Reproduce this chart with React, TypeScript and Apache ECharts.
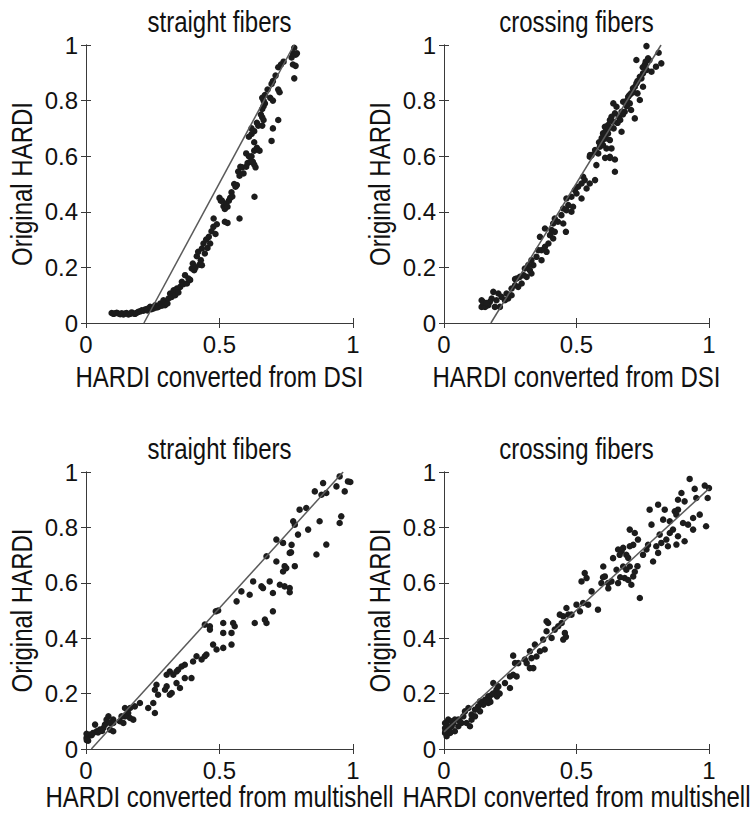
import React, { useEffect, useRef } from "react";
import * as echarts from "echarts";

const FONT = "'Liberation Sans', Arial, Helvetica, sans-serif";

const panelTitles = ["straight fibers", "crossing fibers", "straight fibers", "crossing fibers"];
const xAxisNames = [
  "HARDI converted from DSI",
  "HARDI converted from DSI",
  "HARDI converted from multishell",
  "HARDI converted from multishell",
];
const yAxisName = "Original HARDI";
const xTickStep = 0.5;
const yTickStep = 0.2;

const dsiStraight: number[][] = [
  [0.096,0.036],[0.103,0.033],[0.109,0.035],[0.115,0.037],[0.121,0.034],[0.128,0.032],[0.134,0.035],[0.14,0.031],
  [0.146,0.034],[0.152,0.036],[0.159,0.031],[0.165,0.033],[0.171,0.038],[0.178,0.034],[0.184,0.033],[0.19,0.037],
  [0.196,0.04],[0.203,0.042],[0.209,0.046],[0.215,0.044],[0.221,0.048],[0.228,0.05],[0.234,0.052],[0.23,0.045],
  [0.24,0.058],[0.245,0.05],[0.253,0.052],[0.259,0.064],[0.265,0.056],[0.271,0.058],[0.278,0.07],[0.284,0.062],
  [0.29,0.082],[0.296,0.064],[0.3,0.076],[0.305,0.07],[0.309,0.088],[0.315,0.106],[0.321,0.094],[0.328,0.118],
  [0.334,0.1],[0.34,0.124],[0.34,0.118],[0.346,0.11],[0.353,0.13],[0.359,0.148],[0.365,0.14],[0.371,0.172],
  [0.378,0.142],[0.384,0.16],[0.39,0.155],[0.396,0.196],[0.4,0.214],[0.405,0.19],[0.41,0.2],[0.415,0.24],
  [0.42,0.256],[0.425,0.21],[0.43,0.226],[0.434,0.208],[0.434,0.268],[0.44,0.286],[0.445,0.25],[0.45,0.3],
  [0.455,0.27],[0.46,0.31],[0.465,0.286],[0.47,0.33],[0.477,0.346],[0.478,0.376],[0.485,0.32],[0.49,0.355],
  [0.5,0.45],[0.505,0.44],[0.509,0.44],[0.515,0.42],[0.52,0.364],[0.52,0.41],[0.525,0.43],[0.53,0.418],
  [0.53,0.36],[0.535,0.44],[0.54,0.45],[0.545,0.47],[0.548,0.455],[0.555,0.5],[0.56,0.49],[0.565,0.496],
  [0.57,0.545],[0.575,0.53],[0.575,0.376],[0.578,0.562],[0.585,0.56],[0.59,0.538],[0.6,0.562],[0.6,0.61],
  [0.605,0.575],[0.61,0.6],[0.615,0.58],[0.62,0.68],[0.62,0.6],[0.625,0.58],[0.63,0.57],[0.63,0.62],
  [0.631,0.454],[0.635,0.56],[0.63,0.65],[0.64,0.63],[0.61,0.67],[0.62,0.7],[0.63,0.69],[0.64,0.72],
  [0.645,0.71],[0.65,0.62],[0.655,0.75],[0.66,0.74],[0.66,0.77],[0.66,0.71],[0.665,0.73],[0.665,0.78],
  [0.665,0.8],[0.67,0.79],[0.66,0.81],[0.67,0.82],[0.68,0.84],[0.69,0.81],[0.695,0.86],[0.695,0.655],
  [0.7,0.87],[0.7,0.8],[0.7,0.7],[0.71,0.89],[0.72,0.84],[0.725,0.83],[0.72,0.73],[0.72,0.92],
  [0.73,0.93],[0.74,0.94],[0.77,0.955],[0.775,0.97],[0.775,0.93],[0.78,0.99],[0.78,0.88],[0.785,0.965],
  [0.785,0.925],[0.79,0.97],
];

const dsiCrossing: number[][] = [
  [0.764,0.996],[0.726,0.946],[0.77,0.952],[0.775,0.945],[0.761,0.94],[0.81,0.972],[0.82,0.934],[0.8,0.922],
  [0.783,0.904],[0.751,0.898],[0.765,0.91],[0.739,0.886],[0.726,0.862],[0.751,0.85],[0.713,0.844],[0.706,0.826],
  [0.73,0.826],[0.739,0.802],[0.695,0.814],[0.676,0.796],[0.701,0.79],[0.69,0.78],[0.682,0.76],[0.706,0.766],
  [0.72,0.736],[0.67,0.688],[0.651,0.778],[0.645,0.754],[0.632,0.742],[0.638,0.724],[0.626,0.73],[0.619,0.712],
  [0.607,0.706],[0.6,0.682],[0.619,0.682],[0.611,0.664],[0.626,0.658],[0.594,0.646],[0.588,0.634],[0.632,0.628],
  [0.613,0.628],[0.573,0.616],[0.582,0.61],[0.626,0.598],[0.645,0.588],[0.557,0.604],[0.55,0.598],[0.575,0.568],
  [0.645,0.544],[0.525,0.526],[0.531,0.514],[0.519,0.502],[0.57,0.514],[0.55,0.502],[0.538,0.484],[0.506,0.49],
  [0.494,0.478],[0.5,0.466],[0.481,0.454],[0.519,0.448],[0.462,0.448],[0.469,0.424],[0.487,0.418],[0.45,0.412],
  [0.481,0.4],[0.462,0.406],[0.443,0.388],[0.418,0.376],[0.43,0.364],[0.45,0.358],[0.46,0.328],[0.412,0.358],
  [0.406,0.334],[0.418,0.328],[0.381,0.34],[0.4,0.316],[0.412,0.304],[0.362,0.31],[0.394,0.286],[0.381,0.274],
  [0.368,0.262],[0.387,0.256],[0.356,0.262],[0.349,0.238],[0.368,0.226],[0.33,0.226],[0.337,0.208],[0.318,0.208],
  [0.324,0.19],[0.305,0.196],[0.33,0.178],[0.312,0.166],[0.3,0.172],[0.286,0.166],[0.274,0.16],[0.293,0.142],
  [0.28,0.13],[0.268,0.136],[0.255,0.124],[0.268,0.158],[0.255,0.1],[0.236,0.106],[0.242,0.088],[0.23,0.082],
  [0.217,0.094],[0.205,0.106],[0.198,0.082],[0.211,0.058],[0.192,0.058],[0.186,0.112],[0.18,0.088],[0.173,0.076],
  [0.167,0.064],[0.155,0.07],[0.142,0.082],[0.148,0.064],[0.142,0.058],[0.155,0.058],[0.148,0.075],[0.16,0.072],
  [0.64,0.7],[0.655,0.72],[0.66,0.74],[0.665,0.73],[0.67,0.76],[0.675,0.75],[0.685,0.79],[0.69,0.8],
  [0.7,0.82],[0.715,0.83],[0.72,0.85],[0.73,0.87],[0.745,0.88],[0.75,0.92],[0.758,0.93],[0.6,0.66],
  [0.595,0.665],[0.585,0.65],[0.61,0.69],[0.62,0.7],[0.639,0.79],[0.608,0.594],[0.626,0.594],[0.551,0.604],
  [0.57,0.622],[0.6,0.64],
];

const msStraight: number[][] = [
  [0.95,0.984],[0.981,0.966],[0.99,0.964],[0.888,0.96],[0.938,0.948],[0.969,0.93],[0.857,0.93],[0.882,0.918],
  [0.9,0.924],[0.825,0.87],[0.8,0.864],[0.875,0.822],[0.95,0.816],[0.956,0.84],[0.776,0.822],[0.782,0.81],
  [0.794,0.774],[0.832,0.792],[0.863,0.702],[0.9,0.738],[0.713,0.756],[0.738,0.744],[0.77,0.737],[0.763,0.708],
  [0.768,0.71],[0.676,0.696],[0.713,0.677],[0.744,0.66],[0.75,0.653],[0.782,0.66],[0.738,0.641],[0.688,0.605],
  [0.726,0.593],[0.744,0.587],[0.763,0.581],[0.763,0.566],[0.657,0.587],[0.663,0.581],[0.7,0.563],[0.626,0.605],
  [0.613,0.557],[0.7,0.497],[0.632,0.455],[0.67,0.467],[0.676,0.455],[0.582,0.569],[0.564,0.533],[0.551,0.455],
  [0.557,0.443],[0.514,0.455],[0.545,0.419],[0.514,0.419],[0.545,0.377],[0.514,0.365],[0.486,0.497],[0.495,0.5],
  [0.464,0.443],[0.464,0.431],[0.445,0.449],[0.476,0.377],[0.489,0.359],[0.445,0.335],[0.451,0.341],[0.433,0.323],
  [0.414,0.335],[0.401,0.316],[0.37,0.304],[0.358,0.298],[0.345,0.286],[0.339,0.28],[0.314,0.28],[0.327,0.268],
  [0.302,0.268],[0.395,0.256],[0.37,0.256],[0.339,0.238],[0.352,0.22],[0.302,0.226],[0.296,0.214],[0.321,0.202],
  [0.314,0.196],[0.264,0.232],[0.258,0.214],[0.27,0.196],[0.252,0.166],[0.258,0.13],[0.233,0.148],[0.202,0.166],
  [0.183,0.154],[0.165,0.148],[0.146,0.148],[0.158,0.13],[0.177,0.106],[0.165,0.112],[0.146,0.118],[0.133,0.118],
  [0.127,0.1],[0.14,0.094],[0.102,0.106],[0.102,0.094],[0.09,0.07],[0.102,0.064],[0.084,0.118],[0.077,0.106],
  [0.065,0.076],[0.052,0.07],[0.034,0.088],[0.04,0.064],[0.027,0.058],[0.015,0.052],[0.009,0.046],[0.002,0.04],
  [0.002,0.055],[0.021,0.05],[0.071,0.088],[0.09,0.094],[0.06,0.065],[0.045,0.06],[0.008,0.03],[0.003,0.032],
];

const msCrossing: number[][] = [
  [0.927,0.975],[0.984,0.951],[1.0,0.942],[0.995,0.906],[0.989,0.804],[0.896,0.924],[0.883,0.9],[0.908,0.894],
  [0.946,0.939],[0.952,0.906],[0.965,0.846],[0.94,0.834],[0.94,0.792],[0.921,0.81],[0.902,0.816],[0.883,0.864],
  [0.871,0.858],[0.877,0.846],[0.833,0.864],[0.808,0.882],[0.776,0.864],[0.783,0.81],[0.827,0.828],[0.852,0.822],
  [0.864,0.792],[0.883,0.768],[0.908,0.75],[0.877,0.738],[0.852,0.78],[0.839,0.756],[0.845,0.732],[0.814,0.774],
  [0.82,0.744],[0.801,0.732],[0.789,0.677],[0.808,0.708],[0.77,0.737],[0.764,0.72],[0.751,0.701],[0.701,0.792],
  [0.72,0.78],[0.732,0.756],[0.714,0.737],[0.701,0.732],[0.676,0.726],[0.67,0.714],[0.657,0.72],[0.663,0.701],
  [0.688,0.701],[0.695,0.69],[0.701,0.659],[0.688,0.647],[0.714,0.623],[0.707,0.593],[0.682,0.617],[0.676,0.659],
  [0.651,0.647],[0.657,0.599],[0.632,0.605],[0.638,0.689],[0.601,0.659],[0.607,0.623],[0.619,0.599],[0.594,0.599],
  [0.739,0.545],[0.531,0.635],[0.538,0.617],[0.519,0.605],[0.557,0.569],[0.525,0.527],[0.544,0.521],[0.581,0.503],
  [0.513,0.497],[0.5,0.521],[0.481,0.485],[0.462,0.509],[0.469,0.485],[0.45,0.479],[0.437,0.485],[0.444,0.455],
  [0.431,0.443],[0.456,0.419],[0.45,0.395],[0.46,0.405],[0.418,0.431],[0.406,0.401],[0.393,0.455],[0.387,0.461],
  [0.387,0.425],[0.374,0.395],[0.38,0.359],[0.362,0.353],[0.343,0.377],[0.349,0.334],[0.33,0.328],[0.324,0.353],
  [0.337,0.292],[0.324,0.292],[0.312,0.31],[0.305,0.323],[0.28,0.31],[0.268,0.31],[0.261,0.337],[0.274,0.262],
  [0.261,0.268],[0.249,0.262],[0.249,0.22],[0.23,0.238],[0.205,0.226],[0.198,0.214],[0.186,0.238],[0.192,0.202],
  [0.18,0.196],[0.167,0.19],[0.155,0.178],[0.167,0.166],[0.148,0.16],[0.136,0.172],[0.129,0.154],[0.117,0.142],
  [0.104,0.124],[0.079,0.136],[0.073,0.118],[0.066,0.094],[0.054,0.106],[0.041,0.106],[0.035,0.094],[0.029,0.082],
  [0.016,0.07],[0.004,0.076],[0.004,0.058],[0.01,0.046],[0.023,0.058],[0.041,0.064],[0.054,0.082],[0.085,0.094],
  [0.104,0.106],[0.117,0.118],[0.136,0.136],[0.098,0.082],[0.004,0.094],[0.016,0.106],[0.092,0.148],[0.17,0.18],
  [0.175,0.17],[0.16,0.175],[0.185,0.2],[0.2,0.19],[0.21,0.2],[0.06,0.1],[0.03,0.1],[0.01,0.09],
  [0.02,0.075],[0.005,0.065],[0.62,0.58],[0.665,0.62],[0.695,0.61],[0.72,0.64],[0.73,0.66],[0.6,0.62],
];

const fitLines: number[][][] = [
  [[0.217, 0], [0.779, 1]],
  [[0.177, 0], [0.819, 1]],
  [[0.02, 0], [0.963, 1]],
  [[0, 0.062], [1, 0.94]],
];

const scatterSets = [dsiStraight, dsiCrossing, msStraight, msCrossing];

const grids = [
  { left: 86, top: 45, width: 267, height: 278 },
  { left: 444, top: 45, width: 265, height: 278 },
  { left: 86, top: 472, width: 267, height: 277 },
  { left: 444, top: 472, width: 265, height: 277 },
];

const AXIS_COLOR = "#3a3a3a";
const TEXT_COLOR = "#111";
const TICK_FS = 24;
const NAME_FS = 24;
const STRETCH = 1.2;

export default function App() {
  const ref = useRef<HTMLDivElement>(null);
  useEffect(() => {
    if (!ref.current) return;
    const chart = echarts.init(ref.current, undefined, { renderer: "svg" });
    const xAxis: any[] = [];
    const yAxis: any[] = [];
    const series: any[] = [];
    const graphic: any[] = [];
    const textStyle = (text: string) => ({
      text, fill: TEXT_COLOR, font: `${NAME_FS}px ${FONT}`, align: "center", verticalAlign: "middle",
    });
    grids.forEach((g, i) => {
      const tick = { show: true, inside: true, length: 5, lineStyle: { color: AXIS_COLOR, width: 1 } };
      const line = { show: true, lineStyle: { color: AXIS_COLOR, width: 1 } };
      xAxis.push({
        type: "value", gridIndex: i, min: 0, max: 1, interval: xTickStep, position: "bottom",
        axisLine: line, axisTick: tick, splitLine: { show: false },
        axisLabel: { color: TEXT_COLOR, fontFamily: FONT, fontSize: TICK_FS, margin: 9 },
      });
      xAxis.push({
        type: "value", gridIndex: i, min: 0, max: 1, interval: xTickStep, position: "top",
        axisLine: line, axisTick: tick, splitLine: { show: false }, axisLabel: { show: false },
      });
      yAxis.push({
        type: "value", gridIndex: i, min: 0, max: 1, interval: yTickStep, position: "left",
        axisLine: line, axisTick: tick, splitLine: { show: false },
        axisLabel: { color: TEXT_COLOR, fontFamily: FONT, fontSize: TICK_FS, margin: 8 },
      });
      yAxis.push({
        type: "value", gridIndex: i, min: 0, max: 1, interval: yTickStep, position: "right",
        axisLine: line, axisTick: tick, splitLine: { show: false }, axisLabel: { show: false },
      });
      series.push({
        type: "line", xAxisIndex: i * 2, yAxisIndex: i * 2, data: fitLines[i],
        symbol: "none", lineStyle: { color: "#5a5a5a", width: 1.5 }, silent: true, z: 3,
      });
      series.push({
        type: "scatter", xAxisIndex: i * 2, yAxisIndex: i * 2, data: scatterSets[i],
        symbol: "circle", symbolSize: 6.5, itemStyle: { color: "#1c1c1c", opacity: 1 }, z: 2,
      });
      const cx = g.left + g.width / 2;
      const cy = g.top + g.height / 2;
      const nameOffset = i < 2 ? 54 : 48;
      graphic.push({
        type: "text", x: cx, y: g.top - 23, scaleY: STRETCH, silent: true, style: textStyle(panelTitles[i]),
      });
      graphic.push({
        type: "text", x: cx, y: g.top + g.height + nameOffset, scaleY: STRETCH, silent: true,
        style: textStyle(xAxisNames[i]),
      });
      graphic.push({
        type: "text", x: g.left - 64, y: cy, rotation: Math.PI / 2, scaleY: STRETCH, silent: true,
        style: textStyle(yAxisName),
      });
    });
    chart.setOption({
      animation: false,
      backgroundColor: "#ffffff",
      grid: grids.map((g) => ({ ...g, containLabel: false, outerBoundsMode: "none" })),
      xAxis,
      yAxis,
      series,
      graphic,
    });
    return () => chart.dispose();
  }, []);
  return <div ref={ref} style={{ position: "fixed", left: 0, top: 0, width: 752, height: 814 }} />;
}
